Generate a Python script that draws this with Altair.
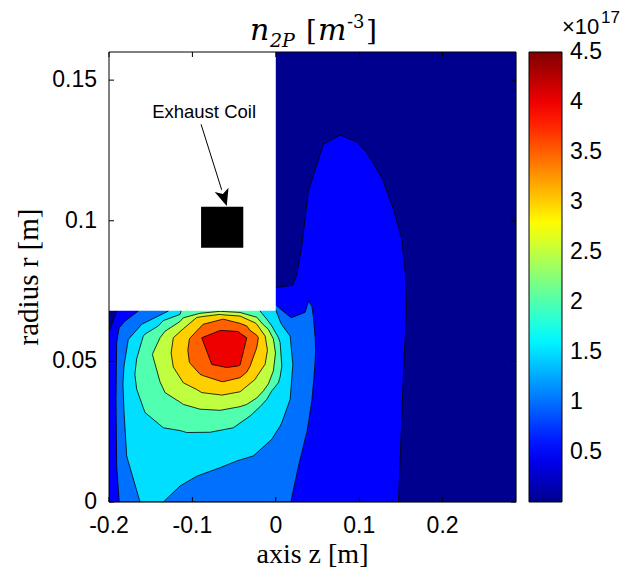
import altair as alt
import pandas as pd

# ---------------- data ----------------
# n_2P in units of 1e17 m^-3 ; filled-contour bands: region where n >= level
levels = [0.0, 0.5, 1.0, 1.5, 2.0, 2.5, 3.0, 3.5, 4.0]

b00_z = [-0.2, 0.288]
b00_lo = [0.0, 0.0]
b00_hi = [0.16, 0.16]

b05_z = [-0.2, -0.1908, -0.185, 0.0, 0.0204, 0.0252, 0.0312, 0.0391, 0.0571, 0.0772,
         0.0972, 0.1092, 0.1272, 0.1411, 0.1471, 0.1512, 0.1531, 0.1552, 0.1566]
b05_lo = [0, 0, 0, 0, 0, 0, 0, 0, 0, 0, 0, 0, 0, 0, 0, 0.0313, 0.0461, 0.0590, 0.0690]
b05_hi = [0.0603, 0.0680, 0.0750, 0.0762, 0.0771, 0.0809, 0.0910, 0.1106, 0.1272, 0.1305,
          0.1280, 0.1242, 0.1153, 0.1041, 0.0977, 0.0934, 0.0870, 0.0817, 0.0690]

b10_z = [-0.1916, -0.1908, -0.1889, -0.1877, -0.1809, -0.1649, -0.155, -0.006, 0.0012, 0.0180,
         0.0192, 0.0272, 0.0352, 0.0372, 0.0391, 0.0432, 0.0452, 0.0472, 0.0478]
b10_lo = [0.0365, 0.0128, 0.0049, 0, 0, 0, 0, 0, 0, 0,
          0.0017, 0.0128, 0.0225, 0.0247, 0.0280, 0.0360, 0.0424, 0.0500, 0.0540]
b10_hi = [0.0365, 0.0567, 0.0602, 0.0620, 0.0643, 0.0679, 0.0750, 0.0720, 0.0697, 0.0656,
          0.0656, 0.0665, 0.0675, 0.0695, 0.0714, 0.0697, 0.0655, 0.0584, 0.0540]

b15_z = [-0.1833, -0.1820, -0.1788, -0.1769, -0.1628, -0.1608, -0.1349, -0.1289, -0.1148, -0.0948,
         -0.0668, -0.0468, -0.0269, -0.0048, 0.0004, 0.0052, 0.0072, 0.0172, 0.0204]
b15_lo = [0.0420, 0.0322, 0.0164, 0.0144, 0, 0, 0, 0.0017, 0.0057, 0.0092,
          0.0122, 0.0146, 0.0164, 0.0223, 0.0248, 0.0270, 0.0282, 0.0365, 0.0489]
b15_hi = [0.0420, 0.0483, 0.0543, 0.0578, 0.0625, 0.0632, 0.0670, 0.0679, 0.0750, 0.0750,
          0.0750, 0.0750, 0.0750, 0.0720, 0.0679, 0.0643, 0.0630, 0.0590, 0.0489]

b20_z = [-0.1690, -0.1668, -0.1589, -0.1568, -0.1409, -0.1349, -0.1148, -0.1068, -0.0788, -0.0509,
         -0.0308, -0.0188, -0.0108, -0.0048, 0.0031, 0.0052, 0.0072]
b20_lo = [0.0454, 0.0401, 0.0335, 0.0318, 0.0279, 0.0264, 0.0254, 0.0247, 0.0248, 0.0264,
          0.0306, 0.0339, 0.0365, 0.0395, 0.0424, 0.0445, 0.0483]
b20_hi = [0.0454, 0.0510, 0.0590, 0.0597, 0.0626, 0.0645, 0.0667, 0.0750, 0.0750, 0.0750,
          0.0750, 0.0679, 0.0650, 0.0626, 0.0585, 0.0567, 0.0483]

b25_z = [-0.1480, -0.1388, -0.1328, -0.1148, -0.1109, -0.0908, -0.0668, -0.0428, -0.0348, -0.0228,
         -0.0149, -0.0089, -0.0029, -0.0004]
b25_lo = [0.0525, 0.0427, 0.0389, 0.0355, 0.0347, 0.0330, 0.0326, 0.0339, 0.0347, 0.0370,
          0.0395, 0.0420, 0.0466, 0.0530]
b25_hi = [0.0525, 0.0584, 0.0607, 0.0642, 0.0655, 0.0671, 0.0678, 0.0674, 0.0667, 0.0657,
          0.0630, 0.0614, 0.0580, 0.0530]

b30_z = [-0.1255, -0.1229, -0.1109, -0.0948, -0.0888, -0.0668, -0.0648, -0.0428, -0.0248, -0.0228,
         -0.0128, -0.0100]
b30_lo = [0.0530, 0.0480, 0.0424, 0.0400, 0.0389, 0.0381, 0.0380, 0.0392, 0.0436, 0.0446,
          0.0490, 0.0540]
b30_hi = [0.0530, 0.0584, 0.0616, 0.0656, 0.0659, 0.0667, 0.0666, 0.0661, 0.0637, 0.0632,
          0.0590, 0.0540]

b35_z = [-0.1055, -0.1036, -0.0908, -0.0869, -0.0648, -0.0628, -0.0428, -0.0348, -0.0308, -0.0228,
         -0.0209]
b35_lo = [0.0540, 0.0496, 0.0454, 0.0449, 0.0428, 0.0428, 0.0442, 0.0462, 0.0483, 0.0549, 0.0584]
b35_hi = [0.0540, 0.0580, 0.0621, 0.0632, 0.0649, 0.0650, 0.0635, 0.0626, 0.0610, 0.0593, 0.0584]

b40_z = [-0.0888, -0.0768, -0.0668, -0.0588, -0.0449, -0.0428, -0.0348]
b40_lo = [0.0584, 0.0489, 0.0483, 0.0478, 0.0484, 0.0487, 0.0584]
b40_hi = [0.0584, 0.0598, 0.0610, 0.0609, 0.0606, 0.0600, 0.0584]

# axis ticks and labels
x_ticks = [-0.2, -0.1, 0.0, 0.1, 0.2]
x_labels = ["-0.2", "-0.1", "0", "0.1", "0.2"]
y_ticks = [0.0, 0.05, 0.1, 0.15]
y_labels = ["0", "0.05", "0.1", "0.15"]
cbar_ticks = [0.5, 1.0, 1.5, 2.0, 2.5, 3.0, 3.5, 4.0, 4.5]
cbar_labels = ["0.5", "1", "1.5", "2", "2.5", "3", "3.5", "4", "4.5"]

# inset (exhaust coil sketch), in axis units
inset_box = dict(z0=-0.2, z1=0.0, r0=0.068, r1=0.16)
coil_box = dict(z0=-0.0896, z1=-0.039, r0=0.0904, r1=0.105)
arrow_line = dict(z0=-0.0896, r0=0.1343, z1=-0.0649, r1=0.1110)
arrow_head = dict(z=-0.0619, r=0.1081)
label_pos = dict(z=-0.086, r=0.1364, text="Exhaust Coil")

# ---------------- build tables ----------------
bands = [
    (b00_z, b00_lo, b00_hi), (b05_z, b05_lo, b05_hi), (b10_z, b10_lo, b10_hi),
    (b15_z, b15_lo, b15_hi), (b20_z, b20_lo, b20_hi), (b25_z, b25_lo, b25_hi),
    (b30_z, b30_lo, b30_hi), (b35_z, b35_lo, b35_hi), (b40_z, b40_lo, b40_hi),
]
rows = []
for i, (zs, los, his) in enumerate(bands):
    for z, lo, hi in zip(zs, los, his):
        rows.append(dict(band=i, lev=levels[i], z=z, lo=lo, hi=hi))
df = pd.DataFrame(rows)

W, H = 407, 450
CB_X, CB_W = W + 13, 33
xs = alt.Scale(domain=[-0.2, 0.288], nice=False, zero=False)
ys = alt.Scale(domain=[0.0, 0.16], nice=False, zero=False)
cs = alt.Scale(domain=[0.0, 4.5], nice=False, zero=False)

jet = alt.Scale(domain=[0.0, 0.5, 1.643, 2.786, 3.929, 4.5],
                range=["#00008f", "#0000ff", "#00ffff", "#ffff00", "#ff0000", "#800000"],
                interpolate="rgb")
legend = alt.Legend(orient="none", legendX=CB_X, legendY=0, direction="vertical",
                    type="gradient", gradientLength=H, gradientThickness=CB_W, title=None,
                    values=cbar_ticks, labelOpacity=0, labelFontSize=1,
                    gradientStrokeColor="black", gradientStrokeWidth=1)

layers = []
for i in range(len(bands)):
    layers.append(
        alt.Chart(df).transform_filter(alt.datum.band == i)
        .mark_area(stroke=None if i == 0 else "black", strokeWidth=0.8, clip=True,
                   interpolate="linear")
        .encode(
            x=alt.X("z:Q", scale=xs, axis=None),
            y=alt.Y("lo:Q", scale=ys, axis=None),
            y2="hi:Q",
            color=alt.Color("lev:Q", scale=jet, legend=legend),
        )
    )

one = pd.DataFrame({"k": [0]})
layers.append(alt.Chart(pd.DataFrame([inset_box])).mark_rect(fill="white", stroke=None).encode(
    x=alt.X("z0:Q", scale=xs, axis=None), x2="z1:Q",
    y=alt.Y("r0:Q", scale=ys, axis=None), y2="r1:Q"))
layers.append(alt.Chart(pd.DataFrame([coil_box])).mark_rect(fill="black", stroke=None).encode(
    x=alt.X("z0:Q", scale=xs, axis=None), x2="z1:Q",
    y=alt.Y("r0:Q", scale=ys, axis=None), y2="r1:Q"))
layers.append(alt.Chart(pd.DataFrame([arrow_line])).mark_rule(color="black", strokeWidth=1).encode(
    x=alt.X("z0:Q", scale=xs, axis=None), x2="z1:Q",
    y=alt.Y("r0:Q", scale=ys, axis=None), y2="r1:Q"))
layers.append(alt.Chart(pd.DataFrame([arrow_head])).mark_point(
    shape="M0,1L-0.85,-1L0,-0.5L0.85,-1Z", filled=True, color="black", opacity=1,
    size=289, angle=342.5).encode(
    x=alt.X("z:Q", scale=xs, axis=None), y=alt.Y("r:Q", scale=ys, axis=None)))
layers.append(alt.Chart(pd.DataFrame([label_pos])).mark_text(
    font="Liberation Sans", fontSize=18.5, color="black", align="center",
    baseline="alphabetic").encode(
    x=alt.X("z:Q", scale=xs, axis=None), y=alt.Y("r:Q", scale=ys, axis=None),
    text="text:N"))

# frame and inward ticks
layers.append(alt.Chart(pd.DataFrame([dict(z0=-0.2, z1=0.288, r0=0.0, r1=0.16)])).mark_rect(
    fillOpacity=0, stroke="black", strokeWidth=1).encode(
    x=alt.X("z0:Q", scale=xs, axis=None), x2="z1:Q",
    y=alt.Y("r0:Q", scale=ys, axis=None), y2="r1:Q"))
xt = pd.DataFrame({"t": x_ticks, "lab": x_labels})
yt = pd.DataFrame({"t": y_ticks, "lab": y_labels})
ct = pd.DataFrame({"t": cbar_ticks, "lab": cbar_labels})
for y0, y1 in [(H, H - 5), (0, 5)]:
    layers.append(alt.Chart(xt).mark_rule(color="black", strokeWidth=1).encode(
        x=alt.X("t:Q", scale=xs, axis=None), y=alt.value(y0), y2=alt.value(y1)))
for x0, x1 in [(0, 5), (W, W - 5)]:
    layers.append(alt.Chart(yt).mark_rule(color="black", strokeWidth=1).encode(
        y=alt.Y("t:Q", scale=ys, axis=None), x=alt.value(x0), x2=alt.value(x1)))

# tick labels
layers.append(alt.Chart(xt).mark_text(font="Liberation Sans", fontSize=23, color="black",
                                      align="center", baseline="alphabetic").encode(
    x=alt.X("t:Q", scale=xs, axis=None), y=alt.value(H + 31), text="lab:N"))
layers.append(alt.Chart(yt).mark_text(font="Liberation Sans", fontSize=23, color="black",
                                      align="right", baseline="middle").encode(
    y=alt.Y("t:Q", scale=ys, axis=None), x=alt.value(-12), text="lab:N"))

# colorbar labels and ticks
layers.append(alt.Chart(ct).mark_text(font="Liberation Sans", fontSize=23, color="black",
                                      align="left", baseline="middle").encode(
    y=alt.Y("t:Q", scale=cs, axis=None), x=alt.value(CB_X + CB_W + 8), text="lab:N"))
layers.append(alt.Chart(ct[ct.t < 4.5]).mark_rule(color="black", strokeWidth=1).encode(
    y=alt.Y("t:Q", scale=cs, axis=None), x=alt.value(CB_X + CB_W - 5),
    x2=alt.value(CB_X + CB_W)))


def txt(s, x, y, size, style="normal", font="DejaVu Serif", angle=0, align="left"):
    return alt.Chart(one).mark_text(text=s, font=font, fontSize=size, fontStyle=style,
                                    color="black", align=align, baseline="alphabetic",
                                    angle=angle).encode(x=alt.value(x), y=alt.value(y))


layers += [
    # title  n_2P [m^-3]
    txt("n", 141, -12, 30, "italic"),
    txt("2P", 161, -5, 19, "italic"),
    txt("[", 197, -12, 28),
    txt("m", 209, -12, 30, "italic"),
    txt("-3", 238, -24, 18),
    txt("]", 257, -12, 28),
    # colorbar exponent
    txt("\u00d710", CB_X + 33, -18, 22, font="Liberation Sans"),
    txt("17", CB_X + 72, -29, 17, font="Liberation Sans"),
    # axis titles
    txt("axis z [m]", W / 2, H + 61, 28, font="Liberation Serif", align="center"),
    txt("radius r [m]", -71, H / 2, 29, font="Liberation Serif", angle=270, align="center"),
]

chart = alt.layer(*layers).resolve_scale(y="independent").properties(
    width=W, height=H,
    padding={"left": 101, "top": 44, "right": 108, "bottom": 68},
    autosize=alt.AutoSizeParams(type="none"),
).configure_view(stroke=None).configure(background="white")

chart.save("out.html", embed_options={"renderer": "svg", "actions": False})
